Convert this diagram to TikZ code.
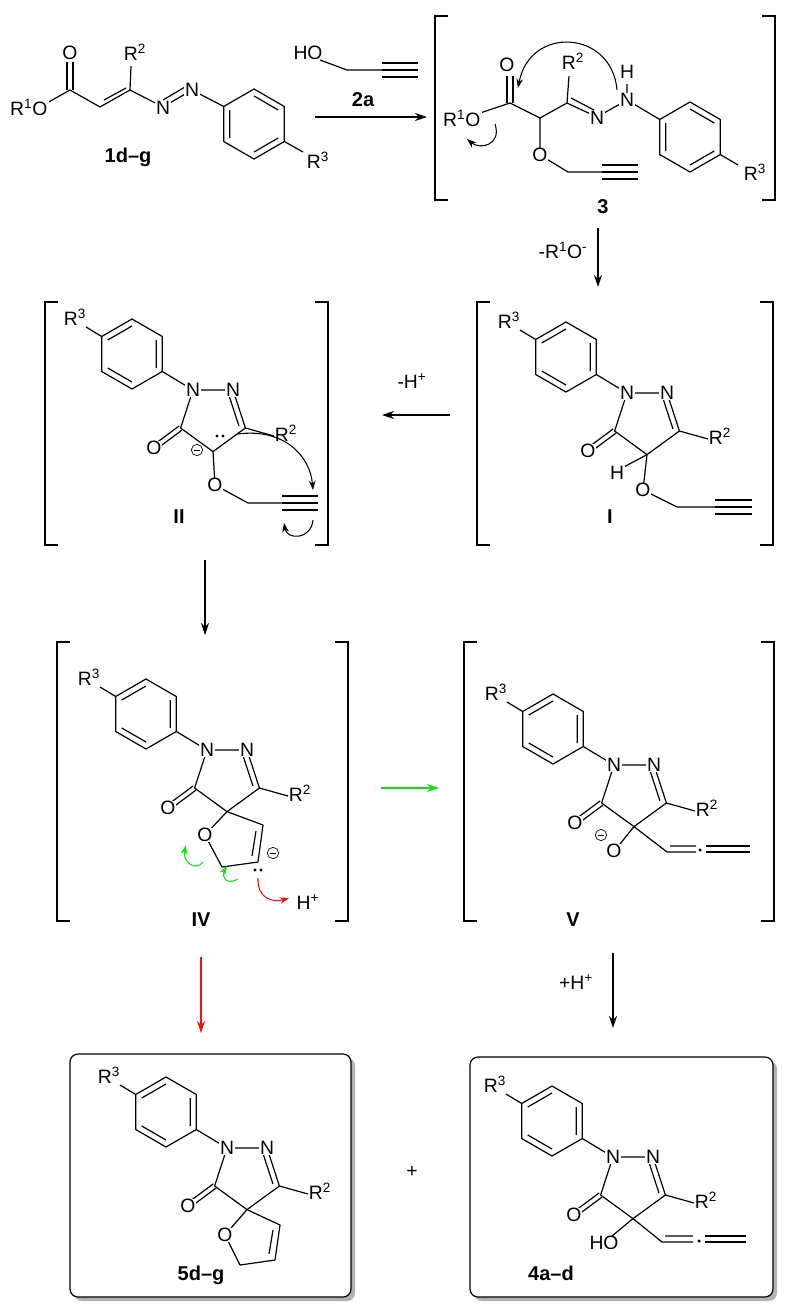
\documentclass[tikz,border=0pt]{standalone}
\usepackage{fontspec}
\setmainfont{Liberation Sans}
\usetikzlibrary{calc,arrows.meta}
\definecolor{mgreen}{RGB}{20,225,20}
\definecolor{mred}{RGB}{235,20,20}
\tikzset{
 bond/.style={line width=0.9pt},
 atom/.style={fill=white,inner sep=0.4pt,font=\fontsize{14.5}{16}\selectfont},
 lbl/.style={inner sep=1pt,font=\fontsize{14.5}{16}\selectfont},
 cmpd/.style={inner sep=1pt,font=\fontsize{15}{17}\selectfont\bfseries},
 rxn/.style={line width=0.9pt,-{Stealth[length=9pt,width=6pt]}},
 push/.style={line width=0.8pt,-{Stealth[length=7pt,width=5pt]}},
}
\newcommand\brk[4]{\draw[bond] (#1,#3) ++(13,0) -- ++(-13,0) -- (#1,#4) -- ++(13,0);
 \draw[bond] (#2,#3) ++(-13,0) -- ++(13,0) -- (#2,#4) -- ++(-13,0);}
\newcommand\mcirc[2]{\node[draw,circle,inner sep=0pt,minimum size=8.5pt,line width=0.5pt] at (#1,#2){};
 \draw[line width=0.5pt] (#1-2.8,#2)--(#1+2.8,#2);}
\newcommand\pyr[2]{%
\begin{scope}[shift={#1}]
\coordinate (c) at (-61,-36);
\coordinate (r1) at (-61,-71); \coordinate (r2) at (-30.7,-53.5); \coordinate (r3) at (-30.7,-18.5);
\coordinate (r4) at (-61,-1); \coordinate (r5) at (-91.3,-18.5); \coordinate (r6) at (-91.3,-53.5);
\draw[bond,line join=round] (r1)--(r2)--(r3)--(r4)--(r5)--(r6)--cycle;
\draw[bond] ($(c)!0.8!(r6)$)--($(c)!0.8!(r1)$) ($(c)!0.8!(r2)$)--($(c)!0.8!(r3)$) ($(c)!0.8!(r4)$)--($(c)!0.8!(r5)$);
\draw[bond] (r3)--(0,0) (r6)--(-107,-63);
\node[lbl] at (-118,-73) {R\textsuperscript{3}};
\coordinate (p1) at (0,0); \coordinate (p2) at (40,0); \coordinate (p3) at (52.4,38);
\coordinate (p4) at (20,61.6); \coordinate (p5) at (-12.4,38); \coordinate (pc) at (20,27.5);
\draw[bond,line join=round] (p1)--(p2)--(p3)--(p4)--(p5)--cycle;
\draw[bond] ($(pc)!0.8!(p2)$)--($(pc)!0.8!(p3)$);
\draw[bond] ([shift={(1.4,2.1)}]p5)--(-36.6,59.1) ([shift={(-1.4,-2.1)}]p5)--(-39.4,54.9);
\draw[bond] (p3)--(81,46);
\node[lbl] at (93,43) {R\textsuperscript{2}};
\node[atom] at (p1) {N}; \node[atom] at (p2) {N}; \node[atom] at (-39,58) {O};
#2
\end{scope}}
\begin{document}
\begin{tikzpicture}[x=0.75pt,y=-0.75pt]
\useasboundingbox (0,0) rectangle (790,1314);
% ---------- 1d-g ----------
\draw[bond] (70,90)--(47,103) (70,90)--(100,107)--(130,90)--(163,107);
\draw[bond] (67,90)--(67,62) (73,90)--(73,62);
\draw[bond] (104,100)--(126,88);
\draw[bond] (130,90)--(131,66);
\draw[bond] (163,107)--(192,90) (163,100)--(185,87);
\draw[bond] (192,90)--(223.7,106.5);
\begin{scope}[shift={(254,124)}]
\coordinate (c) at (0,0);
\coordinate (a1) at (0,-35); \coordinate (a2) at (30.3,-17.5); \coordinate (a3) at (30.3,17.5);
\coordinate (a4) at (0,35); \coordinate (a5) at (-30.3,17.5); \coordinate (a6) at (-30.3,-17.5);
\draw[bond,line join=round] (a1)--(a2)--(a3)--(a4)--(a5)--(a6)--cycle;
\draw[bond] ($(c)!0.8!(a1)$)--($(c)!0.8!(a2)$) ($(c)!0.8!(a5)$)--($(c)!0.8!(a6)$) ($(c)!0.8!(a3)$)--($(c)!0.8!(a4)$);
\draw[bond] (a3)--(49,28);
\end{scope}
\node[atom] at (70,53) {O};
\node[lbl] at (135,52) {R\textsuperscript{2}};
\node[lbl,anchor=east,fill=white] at (49,107) {R\textsuperscript{1}O};
\node[atom] at (163,108) {N};
\node[atom] at (192,90) {N};
\node[lbl] at (318,160) {R\textsuperscript{3}};
\node[cmpd] at (128,157) {1d–g};
% ---------- 2a ----------
\draw[bond] (320,60)--(347,70)--(382,70);
\draw[bond] (382,63)--(418,63) (382,70)--(418,70) (382,77)--(418,77);
\node[lbl] at (308,53) {HO};
\node[cmpd] at (363,100) {2a};
\draw[rxn] (315,117)--(427,117);
% ---------- 3 ----------
\brk{435}{775}{16}{200}
\draw[bond] (510,103)--(480,113) (510,103)--(540,118)--(567,103)--(597,117);
\draw[bond] (507,103)--(507,76) (513,103)--(513,76);
\draw[bond] (567,103)--(569,76);
\draw[bond] (571,98)--(594,110);
\draw[bond] (597,117)--(627,100)--(627,84) (627,100)--(659.7,119.5);
\draw[bond] (540,118)--(540,155)--(568,172)--(602,172);
\draw[bond] (602,165)--(638,165) (602,172)--(638,172) (602,179)--(638,179);
\begin{scope}[shift={(690,137)}]
\coordinate (c) at (0,0);
\coordinate (a1) at (0,-35); \coordinate (a2) at (30.3,-17.5); \coordinate (a3) at (30.3,17.5);
\coordinate (a4) at (0,35); \coordinate (a5) at (-30.3,17.5); \coordinate (a6) at (-30.3,-17.5);
\draw[bond,line join=round] (a1)--(a2)--(a3)--(a4)--(a5)--(a6)--cycle;
\draw[bond] ($(c)!0.8!(a1)$)--($(c)!0.8!(a2)$) ($(c)!0.8!(a5)$)--($(c)!0.8!(a6)$) ($(c)!0.8!(a3)$)--($(c)!0.8!(a4)$);
\draw[bond] (a3)--(48,28);
\end{scope}
\node[atom] at (507,65) {O};
\node[lbl] at (573,61) {R\textsuperscript{2}};
\node[lbl,anchor=east,fill=white] at (482,118) {R\textsuperscript{1}O};
\node[atom] at (597,118) {N};
\node[atom] at (627,100) {N};
\node[lbl] at (627,72) {H};
\node[atom] at (540,155) {O};
\node[lbl] at (755,172) {R\textsuperscript{3}};
\node[cmpd] at (603,207) {3};
\draw[push] (617,90) .. controls (612,30) and (530,25) .. (518,88);
\draw[push] (495,124) .. controls (502,145) and (480,150) .. (467,139);
% ---------- 3 -> I ----------
\draw[rxn] (598,228)--(598,287);
\node[lbl] at (563,250) {-R\textsuperscript{1}O\textsuperscript{-}};
% ---------- I ----------
\brk{477}{773}{302}{545}
\pyr{(627,393)}{
\draw[bond] (p4)--(-5,75);
\node[atom] at (-10,80) {H};
\draw[bond] (p4)--(16,97)--(50,114)--(88,114);
\draw[bond] (88,107)--(125,107) (88,114)--(125,114) (88,121)--(125,121);
\node[atom] at (16,97) {O};
}
\node[cmpd] at (610,517) {I};
% ---------- I -> II ----------
\draw[rxn] (450,415)--(382,415);
\node[lbl] at (412,381) {-H\textsuperscript{+}};
% ---------- II ----------
\brk{45}{328}{302}{545}
\pyr{(193,390)}{
\draw[bond] (p4)--(22,95)--(55,113)--(89,113);
\draw[bond] (89,106)--(125,106) (89,113)--(125,113) (89,120)--(125,120);
\node[atom] at (22,95) {O};
\fill (24,46) circle[radius=1.3pt] (30,46) circle[radius=1.3pt];
\mcirc{4}{60}
\draw[push] (45,44) .. controls (90,38) and (117,65) .. (120,100);
\draw[push] (120,130) .. controls (118,150) and (94,150) .. (91,133);
}
\node[cmpd] at (179,517) {II};
% ---------- II -> IV ----------
\draw[rxn] (205,560)--(205,635);
% ---------- IV ----------
\brk{57}{348}{642}{921}
\pyr{(207,750)}{
\draw[bond,line join=round] (p4)--(-2,85)--(15,117)--(51,112)--(56,75)--cycle;
\draw[bond] (45,106)--(49,81);
\node[atom] at (-2,85) {O};
\mcirc{66}{103}
\fill (48,120) circle[radius=1.3pt] (54,120) circle[radius=1.3pt];
}
\draw[push,mgreen] (203,862) .. controls (196,872) and (182,862) .. (186,845);
\draw[push,mgreen] (238,879) .. controls (226,886) and (221,876) .. (227,866);
\draw[push,mred] (258,878) .. controls (257,898) and (272,903) .. (289,898);
\node[lbl] at (308,902) {H\textsuperscript{+}};
\node[cmpd] at (201,920) {IV};
% ---------- IV -> V ----------
\draw[rxn,mgreen] (381,788)--(439,788);
% ---------- V ----------
\brk{464}{774}{642}{921}
\pyr{(614,765)}{
\draw[bond] (p4)--(2,84);
\node[atom] at (0,86) {O};
\mcirc{-13}{70}
\draw[bond] (p4)--(53,87)--(82,87) (56,81)--(82,81);
\fill (86,85) circle[radius=1.3pt];
\draw[bond] (92,81)--(136,81) (92,87)--(136,87);
}
\node[cmpd] at (573,920) {V};
% ---------- arrows to products ----------
\draw[rxn,mred] (201,957)--(201,1033);
\draw[rxn] (613,953)--(613,1028);
\node[lbl] at (576,982) {+H\textsuperscript{+}};
% ---------- boxes ----------
\fill[black!30,rounded corners=6pt] (74,1058) rectangle (355,1301);
\draw[line width=0.9pt,fill=white,rounded corners=6pt] (70,1054) rectangle (351,1297);
\fill[black!30,rounded corners=6pt] (474,1061) rectangle (777,1301);
\draw[line width=0.9pt,fill=white,rounded corners=6pt] (470,1057) rectangle (773,1297);
% ---------- 5d-g ----------
\pyr{(227,1148)}{
\draw[bond,line join=round] (p4)--(-2,87)--(13,117)--(48,112)--(53,77)--cycle;
\draw[bond] (42,106)--(46,82);
\node[atom] at (-2,87) {O};
}
\node[cmpd] at (201,1275) {5d–g};
\node[lbl] at (412,1172) {+};
% ---------- 4a-d ----------
\pyr{(613,1157)}{
\draw[bond] (p4)--(-1,79);
\node[atom] at (-9,86) {HO};
\draw[bond] (p4)--(49,85)--(80,85) (52,79)--(80,79);
\fill (86,84) circle[radius=1.3pt];
\draw[bond] (92,79)--(133,79) (92,85)--(133,85);
}
\node[cmpd] at (551,1273) {4a–d};
\end{tikzpicture}
\end{document}
